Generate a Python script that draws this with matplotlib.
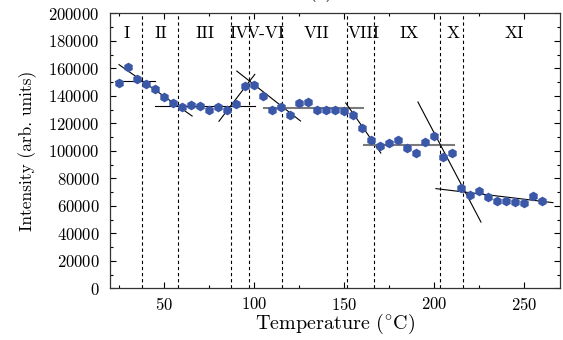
import matplotlib
matplotlib.use("Agg")
import matplotlib.pyplot as plt
from matplotlib.ticker import MultipleLocator

plt.rcParams["font.family"] = "serif"
plt.rcParams["font.serif"] = ["cmr10", "DejaVu Serif"]
plt.rcParams["mathtext.fontset"] = "cm"
plt.rcParams["axes.formatter.use_mathtext"] = True

# Measured intensity vs. temperature
temperature = [25, 30, 35, 40, 45, 50, 55, 60, 65, 70, 75, 80, 85, 90, 95, 100,
               105, 110, 115, 120, 125, 130, 135, 140, 145, 150, 155, 160, 165,
               170, 175, 180, 185, 190, 195, 200, 205, 210, 215, 220, 225, 230,
               235, 240, 245, 250, 255, 260]
intensity = [149600, 161000, 152500, 148800, 145000, 139400, 135000, 131900,
             133000, 132400, 130000, 131600, 130000, 134000, 147000, 147600,
             140000, 130000, 131900, 126000, 134500, 135500, 129700, 129500,
             129500, 129200, 125800, 116600, 107600, 103800, 105700, 108000,
             102300, 98700, 106400, 110500, 95300, 98400, 73000, 67900,
             70800, 66200, 63300, 63800, 62500, 62300, 66900, 63500]

# Region boundaries and labels
boundaries = [37.5, 57.7, 87.2, 97.2, 115.3, 151.5, 166.6, 203.0, 216.2]
region_labels = ["I", "II", "III", "IV", "V-VI", "VII", "VIII", "IX", "X", "XI"]
region_label_x = [29.5, 48, 73, 92, 106.6, 134.5, 160.8, 186, 210.5, 244.6]
region_label_y = 185500

# Linear fit segments: (T start, T end, I start, I end)
fit_t0 = [23, 25, 45, 80.5, 90.4, 105.6, 150.9, 161, 191, 201]
fit_t1 = [45, 65.6, 100.4, 100.4, 125.8, 160.6, 170.4, 211, 226, 266]
fit_i0 = [150500, 162700, 132400, 121500, 158000, 131400, 134800, 104200, 135500, 72500]
fit_i1 = [150500, 125300, 132400, 155600, 121700, 131400, 98400, 104200, 48200, 62300]
fit_color = ["black", "black", "black", "black", "black", "#7a7a7a", "black", "#7a7a7a", "black", "black"]
fit_width = [0.8, 0.8, 0.8, 0.8, 0.8, 1.5, 0.8, 1.5, 0.8, 0.8]

fig = plt.figure(figsize=(5.63, 3.40), dpi=100)
ax = fig.add_axes([0.1954, 0.1520, 0.7996, 0.8088])

for b in boundaries:
    ax.axvline(b, color="black", linestyle=(0, (3, 2.5)), linewidth=0.8, zorder=1)

for t0, t1, i0, i1, c, w in zip(fit_t0, fit_t1, fit_i0, fit_i1, fit_color, fit_width):
    ax.plot([t0, t1], [i0, i1], color=c, linewidth=w, zorder=2)

ax.plot(temperature, intensity, linestyle="none", marker="h", markersize=7,
        color="#3b57a8", markeredgewidth=0, zorder=3)

for lab, lx in zip(region_labels, region_label_x):
    ax.text(lx, region_label_y, lab, ha="center", va="center", fontsize=12.5)

ax.set_xlim(20, 270)
ax.set_ylim(0, 200000)
ax.xaxis.set_major_locator(MultipleLocator(50))
ax.xaxis.set_minor_locator(MultipleLocator(25))
ax.yaxis.set_major_locator(MultipleLocator(20000))
ax.yaxis.set_minor_locator(MultipleLocator(10000))
ax.tick_params(which="both", direction="in", top=True, right=True, labelsize=12)
ax.tick_params(axis="x", which="both", pad=5.5)
ax.tick_params(axis="y", which="both", pad=7.5)
ax.tick_params(which="major", length=4.5, width=0.8)
ax.tick_params(which="minor", length=2.5, width=0.8)
ax.ticklabel_format(axis="y", style="plain", useOffset=False)
for s in ax.spines.values():
    s.set_linewidth(0.9)
    s.set_color("#333333")

ax.set_xlabel(r"Temperature ($^{\circ}$C)", fontsize=14.5, labelpad=-0.5)
ax.set_ylabel("Intensity (arb. units)", fontsize=12.5, labelpad=8)

fig.text(0.570, 1.008, "(a)", ha="center", va="baseline", fontsize=14)

fig.savefig("out.png", dpi=100)
